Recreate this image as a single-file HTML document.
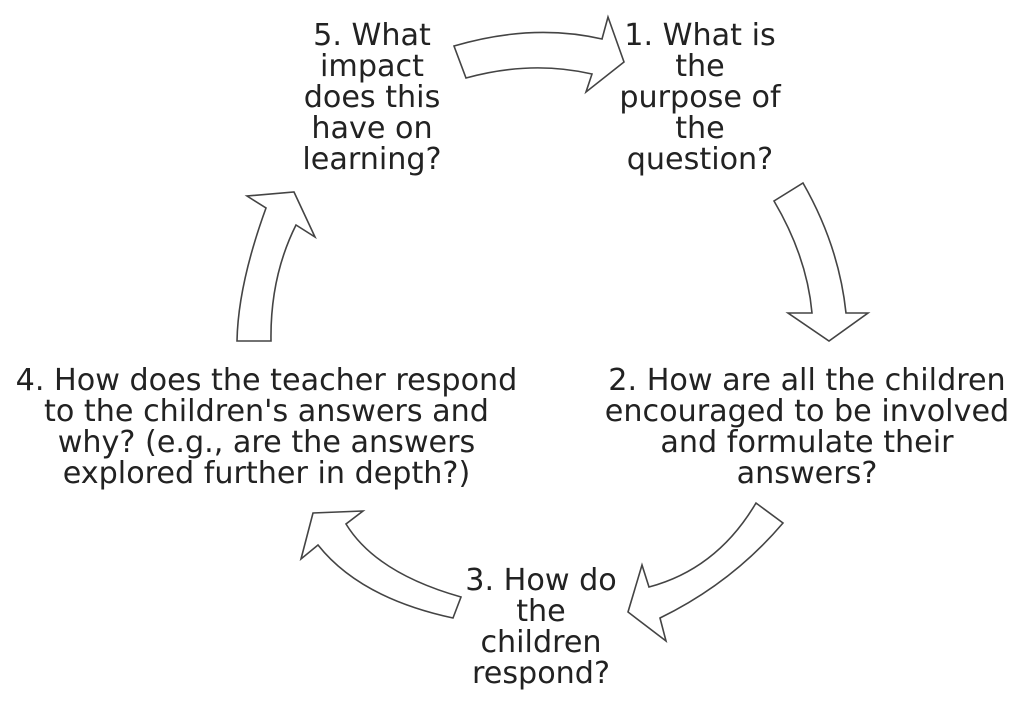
<!DOCTYPE html>
<html><head><meta charset="utf-8"><style>
html,body{margin:0;padding:0;background:#fff;width:1024px;height:712px;overflow:hidden}
.t{position:absolute;font-family:"DejaVu Sans",sans-serif;font-size:30.2px;line-height:31px;color:#222;text-align:center;white-space:nowrap}
svg{position:absolute;left:0;top:0}
</style></head><body>
<svg width="1024" height="712" viewBox="0 0 1024 712">
<g fill="#fff" stroke="#444" stroke-width="1.6" stroke-linejoin="miter">
<path d="M454,46 Q532,23 602,39 L608,17 L624,62 L586,92 L592,74 Q531,60 466,78 Z"/>
<path d="M803,183 Q839,246 846,313 L868,313 L829,341 L788,313 L812,313 Q807,257 774,201 Z"/>
<path d="M783,523 Q732,583 660,618 L666,641 L628,612 L642,565 L649,587 Q717,569 756,503 Z"/>
<path d="M271,341 Q270,277 296,225 L315,237 L294,192 L247,196 L266,208 Q238,285 237,341 Z"/>
<path d="M461,597 Q376,573 346,524 L363,511 L313,513 L301,559 L318,545 Q360,598 453,618 Z"/>
</g>
</svg>
<div class="t" style="left:272px;width:200px;top:20px">5. What<br>impact<br>does this<br>have on<br>learning?</div>
<div class="t" style="left:600px;width:200px;top:20px">1. What is<br>the<br>purpose of<br>the<br>question?</div>
<div class="t" style="left:0px;width:533px;top:365px">4. How does the teacher respond<br>to the children's answers and<br>why? (e.g., are the answers<br>explored further in depth?)</div>
<div class="t" style="left:590px;width:434px;top:365px">2. How are all the children<br>encouraged to be involved<br>and formulate their<br>answers?</div>
<div class="t" style="left:441px;width:200px;top:565px">3. How do<br>the<br>children<br>respond?</div>
</body></html>
